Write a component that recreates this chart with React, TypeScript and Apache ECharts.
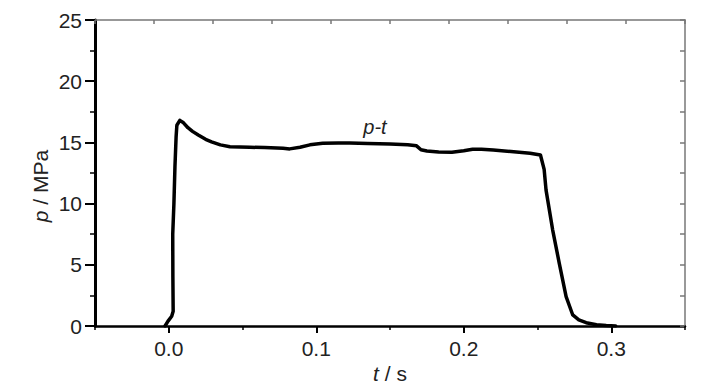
import { useEffect, useRef } from "react";
import * as echarts from "echarts";

const timeS = [
  -0.0025, -0.0005, 0.002, 0.003, 0.0028, 0.0027, 0.0035, 0.0042, 0.005, 0.0055,
  0.0075, 0.01, 0.013, 0.0161, 0.02, 0.025, 0.029, 0.035, 0.0415, 0.055,
  0.065, 0.0775, 0.082, 0.089, 0.0957, 0.1044, 0.115, 0.1227, 0.135, 0.15,
  0.162, 0.168, 0.171, 0.175, 0.183, 0.192, 0.2, 0.206, 0.212, 0.22,
  0.232, 0.245, 0.252, 0.2545, 0.2558, 0.2603, 0.2648, 0.2694, 0.2739, 0.278,
  0.283, 0.29, 0.2966, 0.303,
];
const pressureMPa = [
  0.0, 0.4, 0.8, 1.2, 4.0, 7.5, 10.0, 13.0, 15.5, 16.4,
  16.8, 16.6, 16.2, 15.9, 15.6, 15.25, 15.05, 14.8, 14.65, 14.6,
  14.58, 14.52, 14.47, 14.6, 14.8, 14.93, 14.96, 14.95, 14.92, 14.87,
  14.8, 14.72, 14.4, 14.3, 14.22, 14.2, 14.32, 14.44, 14.45, 14.38,
  14.25, 14.12, 13.97, 12.8, 11.1, 7.84, 5.1, 2.4, 0.9, 0.5,
  0.27, 0.1, 0.04, 0.0,
];
const xLabelValues = [0, 0.1, 0.2, 0.3];
const curveLabel = "p-t";

const FONT = "Liberation Sans, Arial, sans-serif";
const TXT = "#222";
const GRAY = "#777";

export default function App() {
  const ref = useRef<HTMLDivElement>(null);
  useEffect(() => {
    const chart = echarts.init(ref.current!, null, { renderer: "svg" });
    const grid = { left: 95, right: 42, top: 20, bottom: 64, containLabel: false };
    chart.setOption({
      animation: false,
      backgroundColor: "#fff",
      grid: [grid, { ...grid }],
      xAxis: [
        {
          gridIndex: 0,
          type: "value",
          position: "bottom",
          min: -0.05,
          max: 0.35,
          axisLine: { onZero: false, lineStyle: { color: "#000", width: 2.5 } },
          axisTick: { customValues: xLabelValues, length: 7, lineStyle: { color: "#000", width: 2 } },
          axisLabel: {
            customValues: xLabelValues,
            formatter: (v: number) => v.toFixed(1),
            fontSize: 21,
            fontFamily: FONT,
            color: TXT,
            margin: 12,
          },
          splitLine: { show: false },
        },
        {
          gridIndex: 0,
          type: "value",
          position: "top",
          min: 0,
          max: 10,
          interval: 1,
          axisLine: { onZero: false, lineStyle: { color: GRAY, width: 1.5 } },
          axisTick: { inside: true, length: 4, lineStyle: { color: GRAY, width: 1.5 } },
          axisLabel: { show: false },
          splitLine: { show: false },
        },
        {
          gridIndex: 1,
          type: "value",
          position: "bottom",
          min: -0.05,
          max: 0.35,
          interval: 0.1,
          axisLine: { show: false, onZero: false },
          axisTick: { length: 4, lineStyle: { color: "#000", width: 1.5 } },
          axisLabel: { show: false },
          splitLine: { show: false },
        },
      ],
      yAxis: [
        {
          gridIndex: 0,
          type: "value",
          position: "left",
          min: 0,
          max: 25,
          interval: 5,
          axisLine: { show: true, onZero: false, lineStyle: { color: "#000", width: 3 } },
          axisTick: { show: true, length: 10, lineStyle: { color: "#000", width: 2 } },
          minorTick: { show: true, splitNumber: 2, length: 5, lineStyle: { color: "#000", width: 1.5 } },
          axisLabel: { fontSize: 21, fontFamily: FONT, color: TXT, margin: 13 },
          splitLine: { show: false },
          minorSplitLine: { show: false },
        },
        {
          gridIndex: 0,
          type: "value",
          position: "right",
          min: 0,
          max: 25,
          interval: 2.5,
          axisLine: { show: true, onZero: false, lineStyle: { color: GRAY, width: 1.5 } },
          axisTick: { show: true, inside: true, length: 5, lineStyle: { color: GRAY, width: 1.5 } },
          axisLabel: { show: false },
          splitLine: { show: false },
        },
        {
          gridIndex: 1,
          type: "value",
          show: false,
          min: 0,
          max: 25,
        },
      ],
      series: [
        {
          type: "line",
          xAxisIndex: 0,
          yAxisIndex: 0,
          data: timeS.map((t, i) => [t, pressureMPa[i]]),
          showSymbol: false,
          symbol: "none",
          lineStyle: { color: "#000", width: 3.5, join: "round", cap: "round" },
          z: 3,
        },
      ],
      graphic: [
        {
          type: "text",
          x: 375,
          y: 127,
          style: {
            text: curveLabel,
            font: `italic 20px ${FONT}`,
            fill: TXT,
            align: "center",
            verticalAlign: "middle",
          },
        },
        {
          type: "text",
          x: 390,
          y: 373,
          style: {
            text: "{i|t}{n| / s}",
            fill: TXT,
            align: "center",
            verticalAlign: "middle",
            rich: {
              i: { fontStyle: "italic", fontSize: 21, fontFamily: FONT, fill: TXT },
              n: { fontSize: 21, fontFamily: FONT, fill: TXT },
            },
          },
        },
        {
          type: "text",
          x: 40,
          y: 186,
          rotation: Math.PI / 2,
          style: {
            text: "{i|p}{n| / MPa}",
            fill: TXT,
            align: "center",
            verticalAlign: "middle",
            rich: {
              i: { fontStyle: "italic", fontSize: 21, fontFamily: FONT, fill: TXT },
              n: { fontSize: 21, fontFamily: FONT, fill: TXT },
            },
          },
        },
      ],
    });
    return () => chart.dispose();
  }, []);
  return (
    <div
      ref={ref}
      style={{ position: "fixed", left: 0, top: 0, width: 727, height: 390 }}
    />
  );
}
